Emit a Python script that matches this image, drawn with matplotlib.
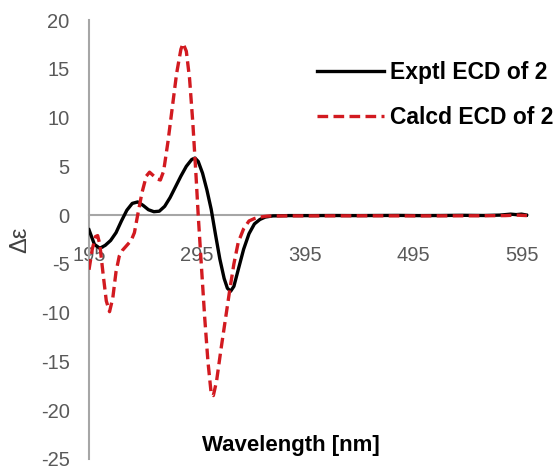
import matplotlib
matplotlib.use("Agg")
import matplotlib.pyplot as plt

# experimental ECD curve (wavelength nm, delta epsilon)
exp_nm = [195, 200, 205, 210, 215, 220, 225, 230, 235, 240, 245, 250, 255,
          260, 265, 270, 275, 280, 285, 290, 293, 296, 300, 304, 308, 312,
          316, 320, 323, 326, 329, 333, 338, 343, 348, 353, 358, 365, 380,
          400, 420, 440, 460, 480, 500, 520, 540, 560, 575, 585, 590, 595, 600]
exp_de = [-1.5, -3.0, -3.4, -3.1, -2.6, -1.8, -0.6, 0.5, 1.2, 1.35, 1.0, 0.55,
          0.35, 0.4, 0.9, 1.8, 2.9, 4.0, 5.0, 5.7, 5.85, 5.5, 4.3, 2.6, 0.6,
          -2.0, -4.5, -6.5, -7.5, -7.8, -7.3, -5.6, -3.5, -1.9, -0.9, -0.45,
          -0.2, -0.08, -0.05, -0.05, -0.04, -0.05, -0.04, -0.03, -0.05, -0.04,
          -0.02, -0.04, 0.0, 0.1, 0.05, 0.1, 0.0]

# calculated ECD curve
calc_nm = [195, 198, 201, 203, 205, 208, 211, 214, 217, 220, 223, 226, 230,
           234, 237, 240, 244, 248, 251, 254, 258, 261, 264, 268, 272, 276,
           280, 282, 285, 288, 291, 294, 296, 299, 302, 305, 308, 310, 313,
           317, 321, 325, 329, 333, 338, 343, 348, 353, 360, 380, 400, 450,
           500, 550, 580, 590, 600]
calc_de = [-5.6, -3.5, -2.2, -2.1, -3.0, -6.0, -8.8, -9.9, -8.5, -5.8, -4.2,
           -3.6, -3.1, -2.6, -1.8, 0.0, 2.3, 4.0, 4.4, 4.1, 3.7, 3.6, 4.5, 7.5,
           11.0, 14.5, 17.0, 17.6, 16.8, 14.0, 9.5, 4.0, 0.0, -5.3, -10.5,
           -15.0, -18.3, -18.5, -17.0, -13.8, -10.8, -7.8, -5.0, -2.8, -1.4,
           -0.6, -0.35, -0.2, -0.1, -0.08, -0.08, -0.07, -0.08, -0.07, -0.05,
           0.0, -0.05]

xticks = [195, 295, 395, 495, 595]
yticks = [-25, -20, -15, -10, -5, 0, 5, 10, 15, 20]

plt.rcParams["font.family"] = ["Liberation Sans", "DejaVu Sans"]
plt.rcParams["axes.unicode_minus"] = False

fig = plt.figure(figsize=(5.58, 4.68), dpi=100)
ax = fig.add_axes([89 / 558, 9 / 468, 439 / 558, 439 / 468])

ax.plot(exp_nm, exp_de, color="black", lw=2.4, label="Exptl ECD of 2",
        zorder=3)
ax.plot(calc_nm, calc_de, color="#d21a20", lw=2.4, ls=(0, (3.2, 1.6)),
        label="Calcd ECD of 2", zorder=4)

ax.set_xlim(195, 601)
ax.set_ylim(-25, 20)
ax.set_xticks(xticks)
ax.set_yticks(yticks)

axis_grey = "#a6a6a6"
for side in ("top", "right"):
    ax.spines[side].set_visible(False)
ax.spines["left"].set_color(axis_grey)
ax.spines["left"].set_linewidth(1.5)
ax.spines["bottom"].set_position(("data", 0))
ax.spines["bottom"].set_color(axis_grey)
ax.spines["bottom"].set_linewidth(1.5)

ax.tick_params(axis="both", length=0, labelsize=14.5, labelcolor="#595959")
ax.tick_params(axis="x", pad=22)
ax.tick_params(axis="y", pad=14)

ax.set_xlabel("Wavelength [nm]", fontsize=16, fontweight="bold")
ax.xaxis.set_label_coords((291 - 89) / 439, (459 - 445) / 439)
ax.xaxis.label.set_va("center")
ax.set_ylabel("Δε", fontsize=17, color="#404040")
ax.yaxis.set_label_coords((20 - 89) / 439, 0.5)
ax.yaxis.label.set_va("center")

leg = ax.legend(loc="upper left", frameon=False,
                prop={"weight": "bold", "size": 16.5}, handlelength=2.9,
                handletextpad=0.25, labelspacing=0.95, borderpad=0)
leg.set_bbox_to_anchor((306 / 558, 1 - 50 / 468), transform=fig.transFigure)

fig.savefig("out.png", dpi=100)
